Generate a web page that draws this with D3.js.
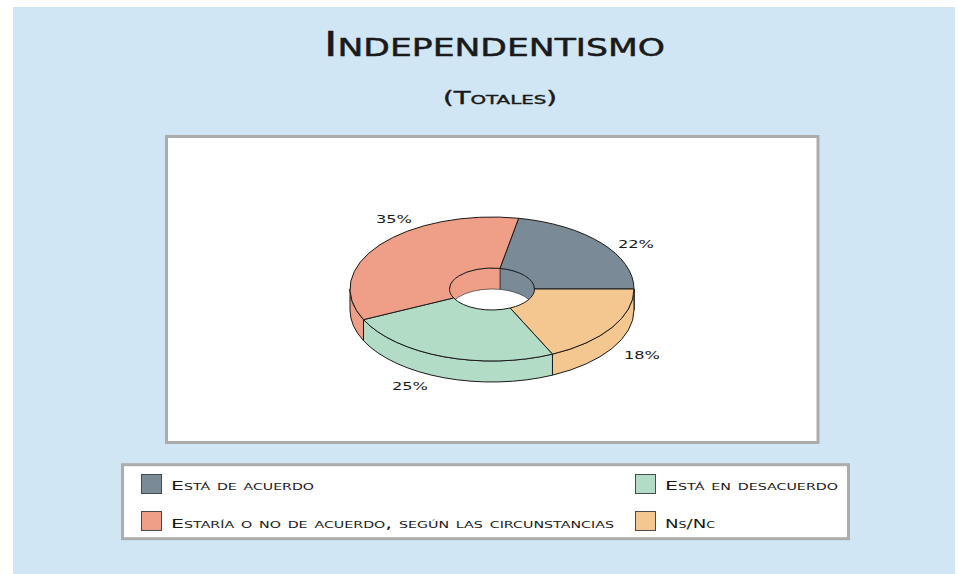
<!DOCTYPE html>
<html><head><meta charset="utf-8">
<script src="https://cdn.jsdelivr.net/npm/d3@7"></script>
<style>html,body{margin:0;padding:0;background:#fff}svg{display:block}text{font-family:"DejaVu Sans";fill:#1a1a1a}</style>
</head><body><svg id="c" width="959" height="574"></svg>
<script>
const categories=["Está de acuerdo","Estaría o no de acuerdo, según las circunstancias","Está en desacuerdo","Ns/Nc"];
const categoryColors=["#7a8a96","#ef9f87","#b3dcc6","#f4c690"];
const sliceValues=[22,18,25,35];
const sliceLabels=["22%","18%","25%","35%"];
const sliceColors=["#7a8a96","#f4c690","#b3dcc6","#ef9f87"];
const svg=d3.select("#c");
const box=(s,x,y,w,h,f,st,sw)=>s.append("rect").attr("x",x).attr("y",y).attr("width",w).attr("height",h).attr("fill",f).attr("stroke",st).attr("stroke-width",sw);
box(svg,13,7,942,567,"#d1e6f5","none",0);
box(svg,166.5,136.5,651.5,306,"#fff","#acacac",3);
box(svg,122.5,464.7,726,74,"#fff","#acacac",3);
// capitals at capFs; lower-case runs as small caps, with the source text kept
function txt(s,t,x,y,capFs,smallFs,len,bold){
  const e=s.append("text").attr("x",x).attr("y",y).attr("textLength",len).attr("lengthAdjust","spacingAndGlyphs");
  if(bold) e.attr("stroke","#1a1a1a").attr("stroke-width",bold);
  (t.match(/\p{Ll}[\p{Ll}\s,]*|[^\p{Ll}]+/gu)||[]).forEach(run=>{
    const low=/\p{Ll}/u.test(run[0]);
    e.append("tspan").attr("font-size",low?smallFs:capFs).style("font-variant",low?"small-caps":"normal").text(run);
  });
}
txt(svg,"Independentismo",324,56,33,35,341,0.5);
txt(svg,"(Totales)",443,104,18,18.5,114,0.4);

const cx=492,cy=289,rx=142,ry=72,hx=42.5,hy=21,depth=21;
const start=10.8*Math.PI/180,T=2*Math.PI;
const pie=d3.pie().sort(null).startAngle(start).endAngle(start+T);
const arcs=pie(sliceValues);
const P=(a,Rx,Ry)=>[cx+Rx*Math.sin(a),cy-Ry*Math.cos(a)];
function wallPath(a0,a1,Rx,Ry){
  const [x0,y0]=P(a0,Rx,Ry),[x1,y1]=P(a1,Rx,Ry);
  return `M${x0},${y0}A${Rx},${Ry} 0 0 1 ${x1},${y1}L${x1},${y1+depth}A${Rx},${Ry} 0 0 0 ${x0},${y0+depth}Z`;
}
function topPath(a0,a1){
  const [x0,y0]=P(a0,rx,ry),[x1,y1]=P(a1,rx,ry),[x2,y2]=P(a1,hx,hy),[x3,y3]=P(a0,hx,hy);
  const lg=(a1-a0)>Math.PI?1:0;
  return `M${x0},${y0}A${rx},${ry} 0 ${lg} 1 ${x1},${y1}L${x2},${y2}A${hx},${hy} 0 ${lg} 0 ${x3},${y3}Z`;
}
const g=svg.append("g").attr("stroke","#1a1a1a").attr("stroke-width",1).attr("stroke-linejoin","round");
arcs.forEach((d,i)=>{
  const a0=Math.max(d.startAngle,Math.PI/2),a1=Math.min(d.endAngle,Math.PI*1.5);
  if(a1>a0) g.append("path").attr("d",wallPath(a0,a1,rx,ry)).attr("fill",sliceColors[i]);
});
svg.append("clipPath").attr("id","hole").append("ellipse").attr("cx",cx).attr("cy",cy).attr("rx",hx).attr("ry",hy);
const hg=g.append("g").attr("clip-path","url(#hole)");
arcs.forEach((d,i)=>{
  [0,T].forEach(off=>{
    const a0=Math.max(d.startAngle+off,Math.PI*1.5),a1=Math.min(d.endAngle+off,Math.PI*2.5);
    if(a1>a0) hg.append("path").attr("d",wallPath(a0,a1,hx,hy)).attr("fill",sliceColors[i]).attr("stroke-width",0.6);
  });
});
arcs.forEach((d,i)=>g.append("path").attr("d",topPath(d.startAngle,d.endAngle)).attr("fill",sliceColors[i]));
const labelPos=[[618,248],[624,359],[392,390],[376,223]];
sliceLabels.forEach((t,i)=>txt(svg,t,labelPos[i][0],labelPos[i][1],11,11,36));

const legendPos=[[141,474,171,490,143],[141,511,171,528,443],[635,474,665,490,173],[635,511,665,528,50]];
categories.forEach((c,i)=>{
  const p=legendPos[i];
  box(svg,p[0]+.5,p[1]+.5,20,19,categoryColors[i],"#4a4a4a",1);
  txt(svg,c,p[2],p[3],13,13.5,p[4]);
});
</script></body></html>
